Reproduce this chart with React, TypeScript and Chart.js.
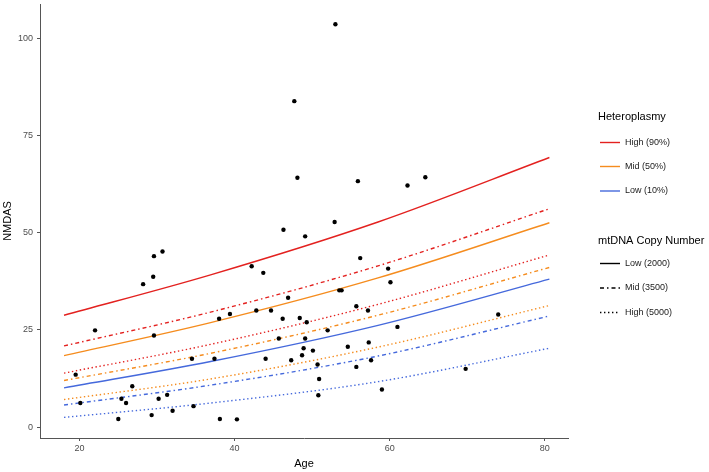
import React, { useEffect, useRef } from "react";
import { Chart, registerables } from "chart.js";

Chart.register(...registerables);

// ---- Data ----
const pointAge = [
  19.5, 20.1, 22.0, 25.0, 25.4, 26.0, 26.8, 28.2, 29.3, 29.5, 29.6, 29.6, 30.2, 30.7,
  31.3, 32.0, 34.5, 34.7, 37.4, 38.0, 38.1, 39.4, 40.3, 42.2, 42.8, 43.7, 44.0, 44.7,
  45.7, 46.2, 46.3, 46.9, 47.3, 47.7, 48.1, 48.4, 48.7, 48.9, 49.1, 49.1, 49.3, 50.1,
  50.7, 50.8, 50.9, 52.0, 52.9, 53.0, 53.5, 53.8, 54.6, 55.7, 55.7, 55.9, 56.2, 57.2,
  57.3, 57.6, 59.0, 59.8, 60.1, 61.0, 62.3, 64.6, 69.8, 74.0,
];
const pointNmdas = [
  13.5, 6.2, 24.9, 2.1, 7.3, 6.2, 10.5, 36.8, 3.1, 38.7, 44.0, 23.6, 7.3, 45.2,
  8.3, 4.2, 17.6, 5.4, 17.6, 27.9, 2.1, 29.1, 2.0, 41.4, 30.0, 39.7, 17.6, 30.0,
  22.8, 27.9, 50.8, 33.3, 17.2, 83.9, 64.2, 28.1, 18.5, 20.3, 49.1, 22.8, 27.0, 19.7,
  16.1, 8.2, 12.4, 24.9, 52.8, 103.7, 35.2, 35.2, 20.7, 31.1, 15.5, 63.3, 43.5, 30.0,
  21.8, 17.2, 9.7, 40.8, 37.3, 25.8, 62.2, 64.3, 15.0, 29.0,
];

const curveAge = [18, 36.9, 58.5, 80.6];
// Heteroplasmy x Copy number fitted curves
const highLowCopy = [28.8, 39.2, 52.8, 69.4];
const highMidCopy = [20.9, 29.6, 41.5, 56.2];
const highHighCopy = [13.9, 21.3, 31.6, 44.3];
const midLowCopy = [18.4, 26.9, 38.4, 52.6];
const midMidCopy = [12.0, 19.0, 28.8, 41.1];
const midHighCopy = [7.1, 12.4, 20.6, 31.3];
const lowLowCopy = [10.1, 16.9, 26.2, 38.1];
const lowMidCopy = [5.7, 10.8, 18.3, 28.6];
const lowHighCopy = [2.5, 6.2, 11.7, 20.3];

const xTicks = [20, 40, 60, 80];
const yTicks = [0, 25, 50, 75, 100];

const heteroLabels = ["High (90%)", "Mid (50%)", "Low (10%)"];
const copyLabels = ["Low (2000)", "Mid (3500)", "High (5000)"];
const heteroTitle = "Heteroplasmy";
const copyTitle = "mtDNA Copy Number";
const xTitle = "Age";
const yTitle = "NMDAS";

// ---- Styles ----
const RED = "#E3211F";
const ORANGE = "#F58C1E";
const BLUE = "#4569DC";
const heteroColors = [RED, ORANGE, BLUE];
const DASHDOT = [4, 3, 1.5, 3];
const DOTTED = [1.4, 2.6];
const copyDashes = [[], DASHDOT, DOTTED];
const FONT = "'Liberation Sans', Arial, Helvetica, sans-serif";

function curve(values: number[], color: string, dash: number[]) {
  return {
    type: "scatter" as const,
    data: curveAge.map((a, i) => ({ x: a, y: values[i] })),
    showLine: true,
    borderColor: color,
    borderWidth: 1.4,
    borderDash: dash,
    pointRadius: 0,
    cubicInterpolationMode: "monotone" as const,
    fill: false,
  };
}

const legendPlugin = {
  id: "groupLegend",
  afterDraw(chart: any) {
    const ctx = chart.ctx as CanvasRenderingContext2D;
    ctx.save();
    ctx.textBaseline = "middle";
    ctx.textAlign = "left";
    ctx.fillStyle = "#000";
    ctx.font = `11px ${FONT}`;
    ctx.fillText(heteroTitle, 598, 117);
    ctx.fillText(copyTitle, 598, 241);
    ctx.font = `9px ${FONT}`;
    const hy = [142.5, 166.5, 191];
    heteroLabels.forEach((lab, i) => {
      ctx.strokeStyle = heteroColors[i];
      ctx.lineWidth = 1.4;
      ctx.setLineDash([]);
      ctx.beginPath();
      ctx.moveTo(600, hy[i]);
      ctx.lineTo(620, hy[i]);
      ctx.stroke();
      ctx.fillStyle = "#1a1a1a";
      ctx.fillText(lab, 625, hy[i]);
    });
    const cy = [263.5, 288, 312.5];
    copyLabels.forEach((lab, i) => {
      ctx.strokeStyle = "#000";
      ctx.lineWidth = 1.4;
      ctx.setLineDash(copyDashes[i]);
      ctx.beginPath();
      ctx.moveTo(600, cy[i]);
      ctx.lineTo(620, cy[i]);
      ctx.stroke();
      ctx.setLineDash([]);
      ctx.fillStyle = "#1a1a1a";
      ctx.fillText(lab, 625, cy[i]);
    });
    ctx.restore();
  },
};

export default function App() {
  const ref = useRef<HTMLCanvasElement | null>(null);
  useEffect(() => {
    if (!ref.current) return;
    const datasets: any[] = [
      {
        type: "scatter",
        data: pointAge.map((a, i) => ({ x: a, y: pointNmdas[i] })),
        backgroundColor: "#000",
        borderWidth: 0,
        pointRadius: 2.2,
      },
      curve(highLowCopy, RED, []),
      curve(highMidCopy, RED, DASHDOT),
      curve(highHighCopy, RED, DOTTED),
      curve(midLowCopy, ORANGE, []),
      curve(midMidCopy, ORANGE, DASHDOT),
      curve(midHighCopy, ORANGE, DOTTED),
      curve(lowLowCopy, BLUE, []),
      curve(lowMidCopy, BLUE, DASHDOT),
      curve(lowHighCopy, BLUE, DOTTED),
    ];
    const chart = new Chart(ref.current, {
      type: "scatter",
      data: { datasets },
      options: {
        animation: false,
        responsive: false,
        devicePixelRatio: 1,
        events: [],
        layout: { padding: { top: -4, right: 141, bottom: 0, left: 0 } },
        plugins: { legend: { display: false }, tooltip: { enabled: false } },
        scales: {
          x: {
            type: "linear",
            min: 14.9,
            max: 83.0,
            afterBuildTicks: (s: any) => {
              s.ticks = xTicks.map((v) => ({ value: v }));
            },
            afterFit: (s: any) => {
              s.height = 34;
              s.paddingLeft = 0;
              s.paddingRight = 0;
            },
            grid: { drawOnChartArea: false, drawTicks: true, tickLength: 3, color: "#555" },
            border: { display: true, color: "#555", width: 1 },
            ticks: { color: "#4d4d4d", font: { size: 9, family: FONT }, padding: 2, maxRotation: 0 },
            title: { display: true, text: xTitle, color: "#000", font: { size: 11, family: FONT }, padding: { top: 0, bottom: 1.4 } },
          },
          y: {
            type: "linear",
            min: -2.8,
            max: 108.9,
            afterBuildTicks: (s: any) => {
              s.ticks = yTicks.map((v) => ({ value: v }));
            },
            afterFit: (s: any) => {
              s.width = 40;
              s.paddingTop = 0;
              s.paddingBottom = 0;
            },
            grid: { drawOnChartArea: false, drawTicks: true, tickLength: 3, color: "#555" },
            border: { display: true, color: "#555", width: 1 },
            ticks: { color: "#4d4d4d", font: { size: 9, family: FONT }, padding: 4 },
            title: { display: true, text: yTitle, color: "#000", font: { size: 11, family: FONT }, padding: { top: 1, bottom: 0 } },
          },
        },
      },
      plugins: [legendPlugin],
    } as any);
    return () => chart.destroy();
  }, []);
  return (
    <div style={{ position: "absolute", left: 0, top: 0, width: 709, height: 472, background: "#fff" }}>
      <canvas ref={ref} width={709} height={472} style={{ display: "block", width: 709, height: 472 }} />
    </div>
  );
}
